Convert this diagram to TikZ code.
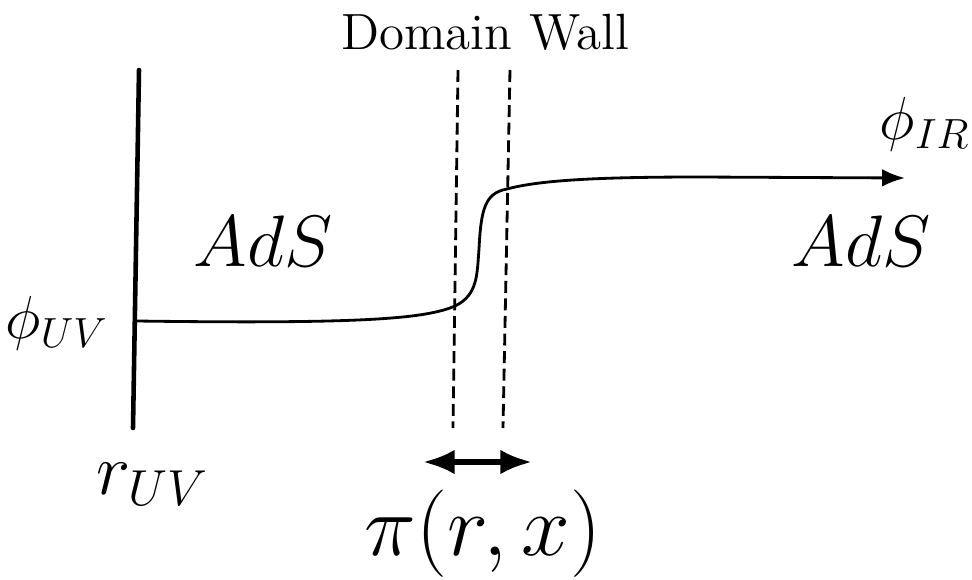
\documentclass[tikz,border=0pt]{standalone}
\usepackage{amsmath,amssymb}
\usepackage{tikz}
\usetikzlibrary{positioning,calc,arrows.meta}

\begin{document}
\begin{tikzpicture}[
    wall/.style={line width=1.3pt, line cap=round},
    dwline/.style={line width=0.8pt, dash pattern=on 3.4pt off 1.6pt},
    field/.style={line width=0.8pt, -{Latex[length=6.5pt,width=5pt]}},
    widtharrow/.style={line width=1.5pt, {Latex[length=9pt,width=7pt]}-{Latex[length=9pt,width=7pt]}}
]
        \useasboundingbox (0,0) rectangle (9.72,5.79);

        % boundary at r_UV
        \coordinate (wtop) at (1.39,5.09);
        \coordinate (wbot) at (1.33,1.51);
        \draw[wall] (wtop) -- (wbot);

        % domain wall edges
        \coordinate (dlt) at (4.58,5.09);
        \coordinate (dlb) at (4.53,1.51);
        \coordinate (drt) at (5.10,5.09);
        \coordinate (drb) at (5.03,1.51);
        \draw[dwline] (dlt) -- (dlb);
        \draw[dwline] (drt) -- (drb);

        % scalar profile
        \coordinate (fstart) at (1.37,2.58);
        \coordinate (fend) at (9.05,4.01);
        \draw[field] (fstart) .. controls (3.6,2.55) and (4.25,2.6) .. (4.55,2.73)
            .. controls (4.78,2.84) and (4.77,3.05) .. (4.79,3.30)
            .. controls (4.81,3.70) and (4.85,3.86) .. (5.07,3.90)
            .. controls (5.40,3.99) and (6.00,4.02) .. (7.00,4.02)
            -- (fend);

        % width of the wall
        \coordinate (wl) at (4.23,1.17);
        \coordinate (wr) at (5.32,1.17);
        \draw[widtharrow] (wl) -- (wr);

        \node (dwlabel) at (4.85,5.47) {\fontsize{14.5}{17}\selectfont Domain Wall};
        \node (adsuv) at (2.63,3.38) {\fontsize{21.7}{25}\selectfont $AdS$};
        \node (adsir) at (8.61,3.38) {\fontsize{21.7}{25}\selectfont $AdS$};
        \node (phiuv) at (0.57,2.56) {\LARGE $\phi_{UV}$};
        \node (phiir) at (9.25,4.55) {\LARGE $\phi_{IR}$};
        \node (ruv) at (1.53,0.95) {\fontsize{19.5}{23}\selectfont $r_{UV}$};
        \node (pilabel) at (4.83,0.45) {\fontsize{26.4}{30}\selectfont $\pi(r,x)$};
    \end{tikzpicture}
\end{document}
